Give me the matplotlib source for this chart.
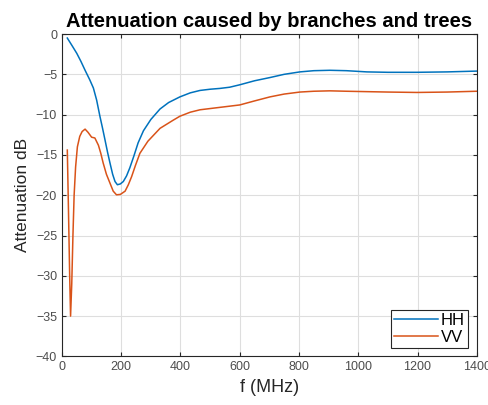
import matplotlib.pyplot as plt

plt.rcParams['font.family'] = ['Liberation Sans', 'DejaVu Sans']

# HH curve
f_hh = [18, 35, 50, 64, 78, 94, 106, 117, 128, 137, 145, 154, 162, 171, 179, 187,
        197, 207, 218, 229, 243, 257, 275, 300, 331, 360, 398, 433, 466, 500, 533,
        566, 600, 650, 702, 750, 803, 850, 904, 960, 1029, 1100, 1198, 1300, 1400]
att_hh = [-0.5, -1.5, -2.4, -3.4, -4.5, -5.7, -6.7, -8.2, -10.2, -11.7, -13.1, -14.7,
          -16.0, -17.4, -18.3, -18.7, -18.6, -18.3, -17.6, -16.6, -15.1, -13.5, -12.0,
          -10.6, -9.3, -8.5, -7.8, -7.3, -7.0, -6.85, -6.75, -6.6, -6.3, -5.8, -5.4,
          -5.0, -4.7, -4.55, -4.5, -4.55, -4.7, -4.75, -4.75, -4.7, -4.6]

# VV curve
f_vv = [18, 22, 26, 29, 33, 37, 41, 46, 52, 60, 68, 78, 88, 100, 111, 123, 131, 139,
        150, 162, 173, 184, 197, 213, 224, 235, 248, 263, 290, 331, 375, 398, 433,
        466, 533, 600, 650, 702, 750, 803, 850, 904, 960, 1029, 1100, 1198, 1300, 1400]
att_vv = [-14.4, -22.0, -30.0, -35.0, -31.0, -25.0, -20.0, -16.5, -14.0, -12.7, -12.1,
          -11.8, -12.2, -12.8, -12.9, -13.8, -14.8, -16.0, -17.4, -18.5, -19.5, -19.95,
          -19.9, -19.5, -18.7, -17.7, -16.3, -14.8, -13.3, -11.7, -10.7, -10.2, -9.7,
          -9.4, -9.1, -8.8, -8.3, -7.8, -7.45, -7.2, -7.1, -7.05, -7.1, -7.15, -7.2,
          -7.25, -7.2, -7.1]

fig = plt.figure(figsize=(4.88, 4.05), dpi=100)
ax = fig.add_axes([0.127, 0.12, 0.85, 0.796])

ax.plot(f_hh, att_hh, color='#0072BD', lw=1.1, label='HH')
ax.plot(f_vv, att_vv, color='#D95319', lw=1.1, label='VV')

ax.set_xlim(0, 1400)
ax.set_ylim(-40, 0)
ax.set_xticks(range(0, 1401, 200))
ax.set_yticks(range(-40, 1, 5))
ax.grid(True, color='#dedede', lw=0.8)
ax.tick_params(direction='in', top=True, right=True, labelsize=9,
               labelcolor='#4d4d4d', color='#262626', length=3)
for s in ax.spines.values():
    s.set_color('#262626')
    s.set_linewidth(0.8)

ax.set_title('Attenuation caused by branches and trees', fontsize=14.5,
             fontweight='bold', pad=5)
ax.set_xlabel('f (MHz)', fontsize=13, color='#262626')
ax.set_ylabel('Attenuation dB', fontsize=12.5, color='#262626')

leg = ax.legend(loc='lower right', fontsize=12, fancybox=False, framealpha=1,
                edgecolor='#262626', borderaxespad=0.5, handlelength=2.6,
                handletextpad=0.2, borderpad=0.2, labelspacing=0.1)
leg.get_frame().set_linewidth(0.8)

plt.savefig('out.png', dpi=100)
